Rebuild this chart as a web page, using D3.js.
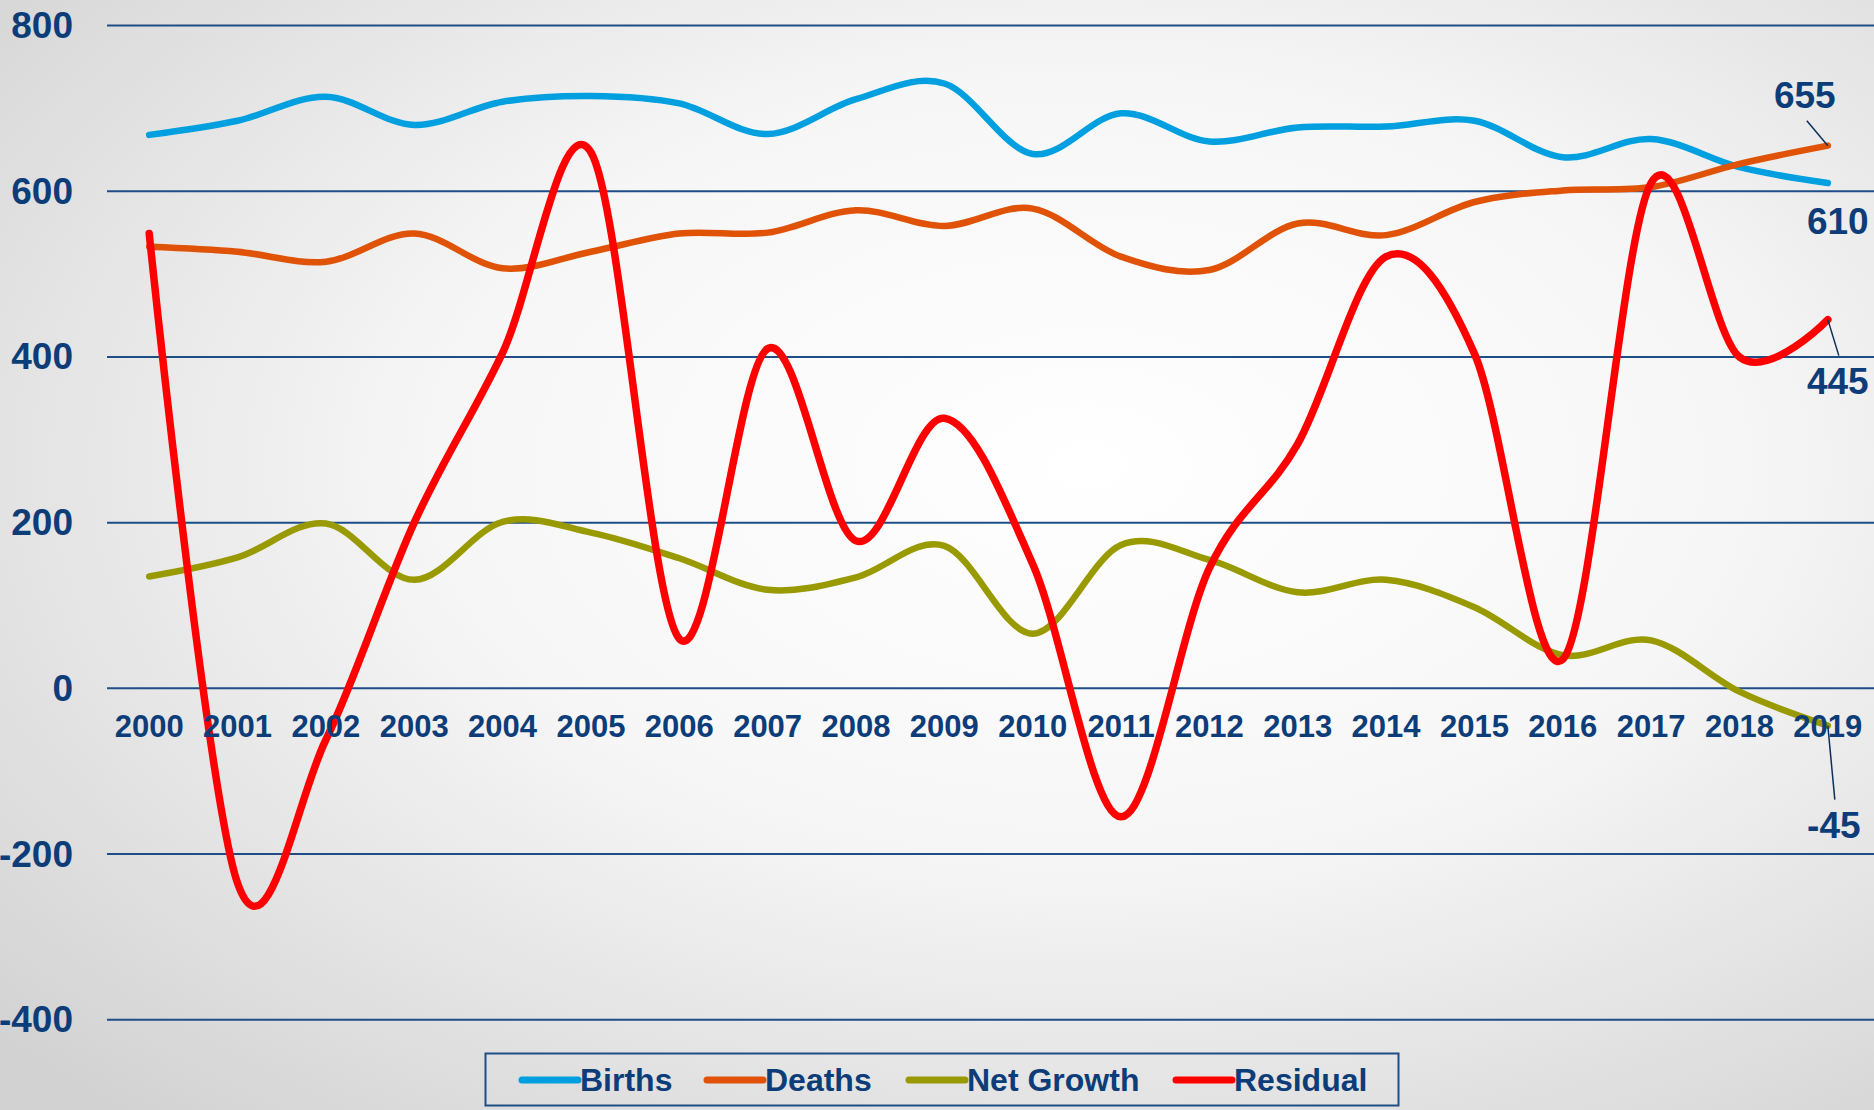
<!DOCTYPE html>
<html>
<head>
<meta charset="utf-8">
<script src="https://cdn.jsdelivr.net/npm/d3@7"></script>
<style>
  html, body { margin: 0; padding: 0; overflow: hidden; }
  svg { display: block; }
  text { font-family: 'Liberation Sans', Arial, sans-serif; font-weight: bold; fill: #0d3d78; }
</style>
</head>
<body>
<svg id="chart"></svg>
<script>
const years = ['2000', '2001', '2002', '2003', '2004', '2005', '2006', '2007', '2008', '2009',
  '2010', '2011', '2012', '2013', '2014', '2015', '2016', '2017', '2018', '2019']
const births = [668, 685, 714, 680, 708, 715, 706, 669, 711, 730, 645, 694, 660, 677, 678, 685, 641, 663, 629, 610]
const deaths = [533, 527, 515, 549, 507, 527, 549, 550, 577, 558, 579, 521, 505, 561, 547, 587, 601, 605, 633, 655]
const netGrowth = [135, 158, 199, 131, 201, 188, 157, 119, 134, 172, 66, 173, 155, 116, 131, 98, 40, 58, -4, -45]
const residual = [549, -235, -62, 200, 405, 647, 60, 410, 178, 326, 150, -155, 145, 295, 521, 404, 35, 610, 400, 445]
const yTicks = [800, 600, 400, 200, 0, -200, -400]
const seriesNames = ['Births', 'Deaths', 'Net Growth', 'Residual']
const seriesColors = ['#00a0e0', '#e05206', '#999900', '#ff0000']

const width = 1874
const height = 1110

const svg = d3.select('#chart')
  .attr('width', width)
  .attr('height', height)

// background: soft radial grey
const defs = svg.append('defs')
const grad = defs.append('radialGradient')
  .attr('id', 'bg')
  .attr('cx', '58%').attr('cy', '42%').attr('r', '78%')
grad.append('stop').attr('offset', '0%').attr('stop-color', '#ffffff')
grad.append('stop').attr('offset', '45%').attr('stop-color', '#f6f6f6')
grad.append('stop').attr('offset', '100%').attr('stop-color', '#d2d2d2')
svg.append('rect')
  .attr('width', width).attr('height', height)
  .attr('fill', 'url(#bg)')

const x = d3.scalePoint()
  .domain(years)
  .range([105, 1872])
  .padding(0.5)

const y = d3.scaleLinear()
  .domain([-400, 800])
  .range([1019.8, 25.5])

// gridlines
svg.append('g')
  .selectAll('line')
  .data(yTicks)
  .join('line')
  .attr('x1', 107)
  .attr('x2', width)
  .attr('y1', d => y(d))
  .attr('y2', d => y(d))
  .attr('stroke', '#1f4e86')
  .attr('stroke-width', 2)

// series lines
const series = [births, deaths, netGrowth, residual]
const line = d3.line()
  .x((d, i) => x(years[i]))
  .y(d => y(d))
  .curve(d3.curveCardinal.tension(0))

svg.append('g')
  .selectAll('path')
  .data(series)
  .join('path')
  .attr('d', d => line(d))
  .attr('fill', 'none')
  .attr('stroke', (d, i) => seriesColors[i])
  .attr('stroke-width', (d, i) => i === 3 ? 7.5 : 6.5)
  .attr('stroke-linecap', 'round')
  .attr('stroke-linejoin', 'round')

// y axis labels
svg.append('g')
  .selectAll('text')
  .data(yTicks)
  .join('text')
  .attr('x', 73)
  .attr('y', d => y(d))
  .attr('text-anchor', 'end')
  .attr('dominant-baseline', 'central')
  .attr('font-size', 37)
  .text(d => d)

// category labels
svg.append('g')
  .selectAll('text')
  .data(years)
  .join('text')
  .attr('x', d => x(d))
  .attr('y', 726)
  .attr('text-anchor', 'middle')
  .attr('dominant-baseline', 'central')
  .attr('font-size', 31)
  .text(d => d)

// end-of-series value labels with leader lines
const last = years[years.length - 1]
const endLabels = [
  { value: deaths[19], dx: -23, dy: -50, lx: -21, ly: -25 },
  { value: births[19], dx: 10, dy: 39, lx: 0, ly: 0 },
  { value: residual[19], dx: 10, dy: 62, lx: 11, ly: 36 },
  { value: netGrowth[19], dx: 6, dy: 100, lx: 7, ly: 74 }
]
const lab = svg.append('g')
lab.selectAll('line')
  .data(endLabels.filter(d => d.lx || d.ly))
  .join('line')
  .attr('x1', x(last))
  .attr('y1', d => y(d.value))
  .attr('x2', d => x(last) + d.lx)
  .attr('y2', d => y(d.value) + d.ly)
  .attr('stroke', '#0d2f5a')
  .attr('stroke-width', 1.5)
lab.selectAll('text')
  .data(endLabels)
  .join('text')
  .attr('x', d => x(last) + d.dx)
  .attr('y', d => y(d.value) + d.dy)
  .attr('text-anchor', 'middle')
  .attr('dominant-baseline', 'central')
  .attr('font-size', 37)
  .text(d => d.value)

// legend
const legend = svg.append('g')
legend.append('rect')
  .attr('x', 485.5).attr('y', 1053.5)
  .attr('width', 913).attr('height', 52)
  .attr('fill', 'none')
  .attr('stroke', '#1f4e86')
  .attr('stroke-width', 2)
const legendX = [522, 707, 909, 1176]
const item = legend.selectAll('g.item')
  .data(seriesNames)
  .join('g')
  .attr('class', 'item')
  .attr('transform', (d, i) => `translate(${legendX[i]},1080)`)
item.append('line')
  .attr('x1', 0).attr('x2', 56)
  .attr('stroke', (d, i) => seriesColors[i])
  .attr('stroke-width', 7)
  .attr('stroke-linecap', 'round')
item.append('text')
  .attr('x', 58)
  .attr('dominant-baseline', 'central')
  .attr('font-size', 32)
  .text(d => d)
</script>
</body>
</html>
